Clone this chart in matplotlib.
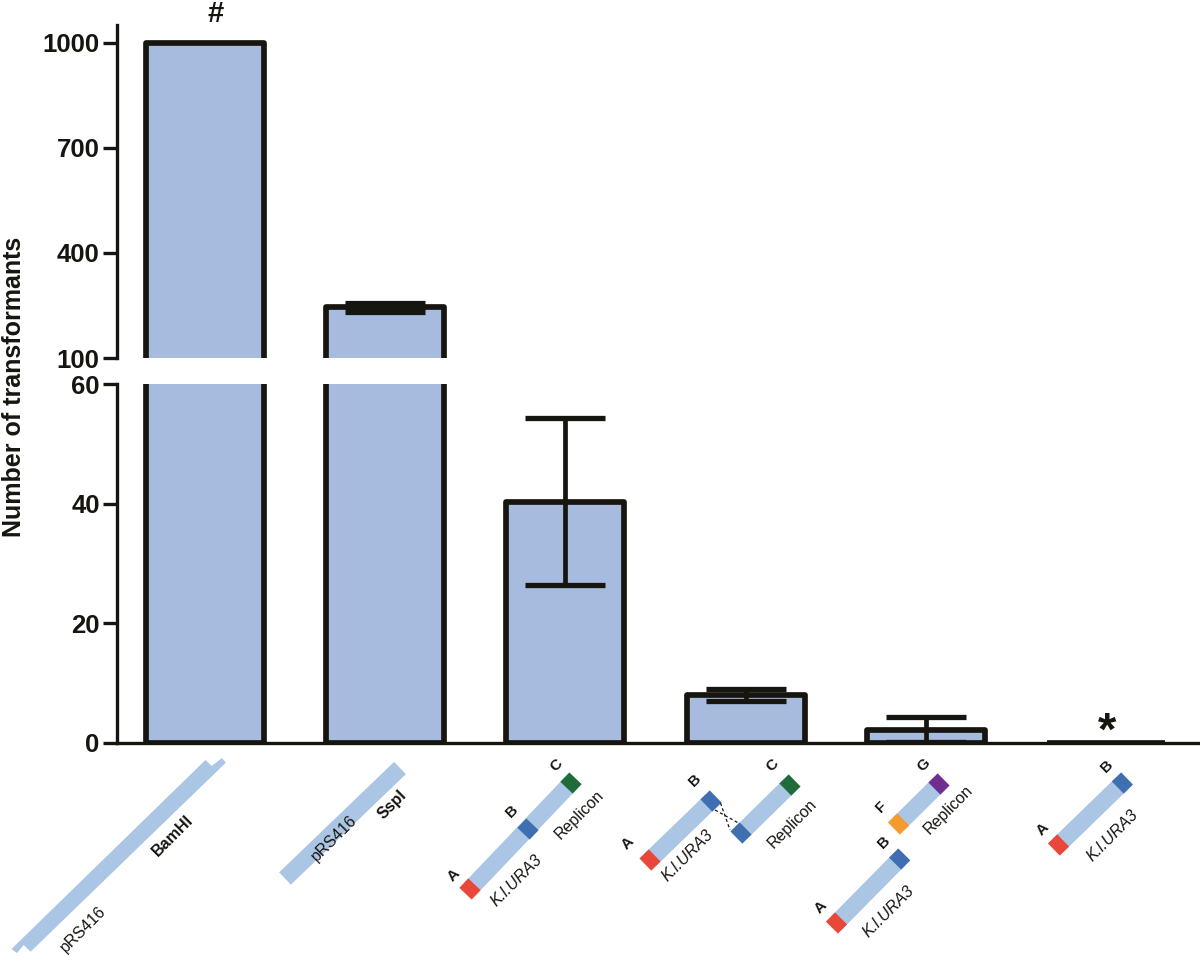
import matplotlib
matplotlib.use("Agg")
import matplotlib.pyplot as plt
import numpy as np

plt.rcParams['font.family'] = ['Liberation Sans', 'DejaVu Sans']

means = [1000, 245, 40.3, 8.0, 2.2, 0.05]
err_low = [0, 10, 13.9, 1.0, 2.0, 0]
err_high = [0, 10, 14.0, 1.0, 2.1, 0]
upper_ticks = [100, 400, 700, 1000]
lower_ticks = [0, 20, 40, 60]

W, H = 1200, 957
BAR = '#a6bbdd'
INK = '#17150f'
LIGHT = '#abc5e4'
RED = '#e8473a'
BLUE = '#3f6fb0'
GREEN = '#1f6b3a'
ORANGE = '#f59a2c'
PURPLE = '#6f2c91'

fig = plt.figure(figsize=(W / 100, H / 100), dpi=100, facecolor='white')
def make_axes(top, bottom):
    return fig.add_axes([117 / W, 1 - bottom / H, 1081 / W, (bottom - top) / H])

low = make_axes(384, 743)
up = make_axes(25, 358)
xpos = np.arange(len(means))
xlim = ((117 - 205) / 180.2, (1198 - 205) / 180.2)

for ax, ylim, ticks in ((low, (0, 60), lower_ticks), (up, (100, 1051), upper_ticks)):
    ax.bar(xpos, means, width=118 / 180.2, color=BAR, edgecolor=INK, linewidth=4.1,
           joinstyle='round', zorder=2)
    for i in xpos:
        if err_low[i] or err_high[i]:
            ax.errorbar(xpos[i], means[i], yerr=[[err_low[i]], [err_high[i]]],
                        fmt='none', ecolor=INK, elinewidth=3.4, capsize=29,
                        capthick=5.2 if i == 1 else 3.8, zorder=3)
    ax.set_xlim(*xlim)
    ax.set_ylim(*ylim)
    ax.set_yticks(ticks)
    ax.set_xticks([])
    ax.patch.set_alpha(0)
    for s in ('top', 'right'):
        ax.spines[s].set_visible(False)
    for s in ('left', 'bottom'):
        ax.spines[s].set_linewidth(2.4)
        ax.spines[s].set_color(INK)
        ax.spines[s].set_zorder(5)
    ax.tick_params(axis='y', length=10, width=2.4, color=INK, pad=2.5, labelsize=18.5, labelcolor=INK)
    for t in ax.get_yticklabels():
        t.set_fontweight('bold')

up.spines['bottom'].set_visible(False)
up.set_yticks([100], minor=True)
low.set_yticks([60], minor=True)
up.tick_params(axis='y', which='minor', direction='in', length=5, width=2.4, color=INK)
low.tick_params(axis='y', which='minor', direction='in', length=5, width=2.4, color=INK)

fig.text(14 / W, 1 - 387 / H, 'Number of transformants', rotation=90, fontsize=18,
         fontweight='bold', ha='center', va='center', color=INK)
fig.text(216 / W, 1 - 14 / H, '#', fontsize=21, fontweight='bold', ha='center', va='center', color=INK)
fig.text(1107 / W, 1 - 733 / H, '*', fontsize=34, fontweight='bold', ha='center', va='center', color=INK)

# Schematic drawings under the bars, in figure pixel coordinates
sk = fig.add_axes([0, 0, 1, 1])
sk.set_xlim(0, W)
sk.set_ylim(H, 0)
sk.axis('off')
sk.patch.set_alpha(0)

PT = 0.72
def band(p0, p1, color=LIGHT, width=17):
    sk.plot([p0[0], p1[0]], [p0[1], p1[1]], color=color, lw=width * PT, solid_capstyle='butt')

def construct(ends, end_colors, mid=None, blk=13, width=17):
    p0, p1 = np.array(ends[0], float), np.array(ends[1], float)
    d = (p1 - p0) / np.hypot(*(p1 - p0))
    band(p0, p1, width=width)
    pts = [(p0, end_colors[0]), (p1, end_colors[1])]
    if mid is not None:
        pts.append((np.array(mid[0], float), mid[1]))
    for p, c in pts:
        band(p - d * blk / 2, p + d * blk / 2, color=c, width=width)

sk.fill([11.5, 205.5, 211.6, 222, 225.8, 30.6, 23.7, 17],
        [949, 760, 766, 758, 762.7, 951.7, 945, 953], color=LIGHT, lw=0)
band((400, 768), (285, 878.5), width=17)
construct([(470, 889), (571, 783)], [RED, GREEN], mid=((528, 829), BLUE))
construct([(650, 860), (711, 801)], [RED, BLUE])
construct([(741, 833), (790, 785)], [BLUE, GREEN])
sk.plot([715, 738.5], [810, 823], color=INK, lw=0.9, ls=(0, (2.5, 2)))
sk.plot([720.5, 730], [803, 830], color=INK, lw=0.9, ls=(0, (2.5, 2)))
construct([(898.5, 824), (939, 784)], [ORANGE, PURPLE])
construct([(836.5, 923), (899.7, 859)], [RED, BLUE])
construct([(1058.5, 845), (1122.4, 783)], [RED, BLUE])

def lab(x, y, s, **kw):
    sk.text(x, y, s, rotation=45, rotation_mode='anchor', ha='center', va='center', color=INK,
            fontsize=kw.pop('fontsize', 11.5), **kw)

for x, y, s in [(83, 929, 'pRS416'), (334, 838, 'pRS416'), (579, 815, 'Replicon'),
                (792, 824, 'Replicon'), (948, 810, 'Replicon')]:
    lab(x, y, s)
for x, y, s in [(173, 836, 'BamHI'), (392, 805, 'SspI')]:
    lab(x, y, s, fontweight='bold')
for x, y in [(517, 881), (688, 856), (889, 912), (1113, 836)]:
    lab(x, y, 'K.l.URA3', style='italic')
for x, y, s in [(454, 875, 'A'), (512, 811, 'B'), (556, 765, 'C'),
                (628, 843, 'A'), (695, 780, 'B'), (772, 765, 'C'),
                (881, 807, 'F'), (924, 765, 'G'), (821, 907, 'A'), (884, 842, 'B'),
                (1043, 829, 'A'), (1107, 766, 'B')]:
    lab(x, y, s, fontweight='bold', fontsize=11)

fig.savefig('out.png', dpi=100, facecolor='white')
